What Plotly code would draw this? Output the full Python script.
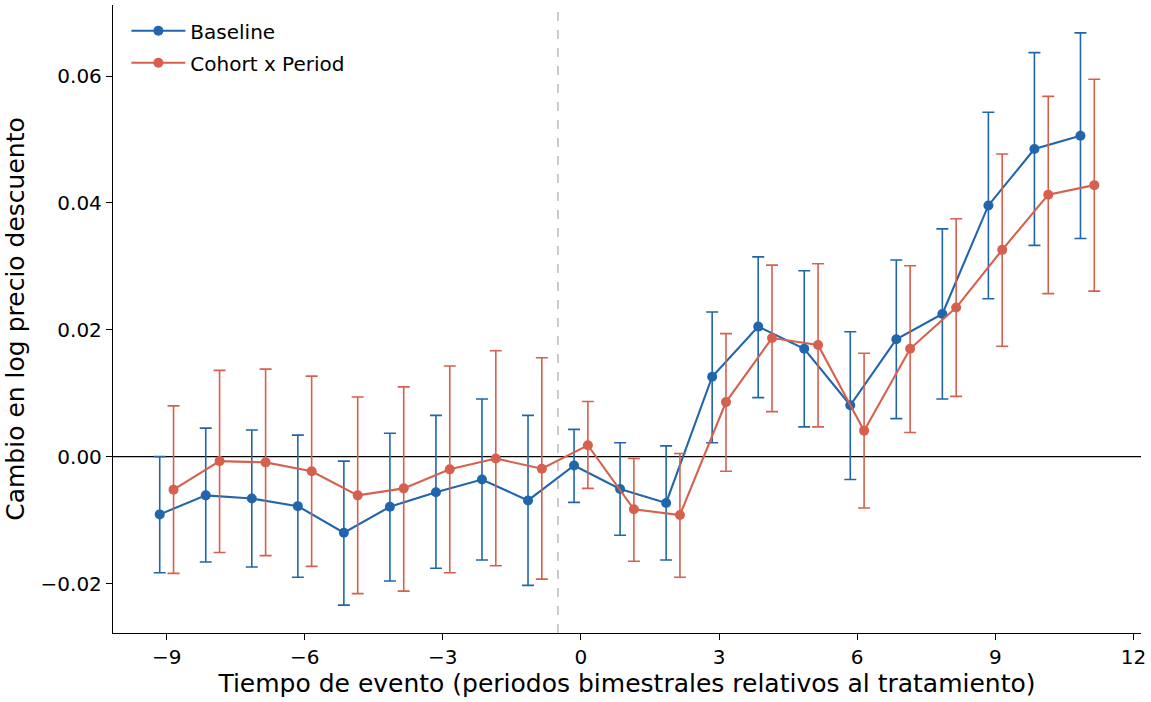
import plotly.graph_objects as go

event_time = list(range(-9, 12))

baseline_coef = [-0.0091, -0.0061, -0.0066, -0.0078, -0.0120, -0.0079, -0.0056, -0.0036, -0.0069, -0.0014,
                 -0.0051, -0.0073, 0.0126, 0.0205, 0.0170, 0.0081, 0.0185, 0.0225, 0.0396, 0.0485, 0.0506]
baseline_hi = [0.0000, 0.0045, 0.0042, 0.0034, -0.0007, 0.0037, 0.0065, 0.0091, 0.0065, 0.0043,
               0.0022, 0.0017, 0.0228, 0.0315, 0.0293, 0.0197, 0.0310, 0.0359, 0.0543, 0.0637, 0.0668]
baseline_lo = [-0.0183, -0.0166, -0.0174, -0.0190, -0.0234, -0.0196, -0.0176, -0.0163, -0.0203, -0.0072,
               -0.0124, -0.0163, 0.0022, 0.0093, 0.0047, -0.0036, 0.0060, 0.0091, 0.0249, 0.0333, 0.0344]

cohort_coef = [-0.0052, -0.0007, -0.0009, -0.0023, -0.0061, -0.0050, -0.0020, -0.0003, -0.0019, 0.0018,
               -0.0083, -0.0092, 0.0086, 0.0187, 0.0176, 0.0041, 0.0170, 0.0235, 0.0326, 0.0413, 0.0428]
cohort_hi = [0.0080, 0.0136, 0.0138, 0.0127, 0.0094, 0.0110, 0.0143, 0.0167, 0.0156, 0.0087,
             -0.0003, 0.0005, 0.0194, 0.0302, 0.0304, 0.0163, 0.0301, 0.0375, 0.0477, 0.0568, 0.0595]
cohort_lo = [-0.0184, -0.0151, -0.0156, -0.0173, -0.0216, -0.0212, -0.0183, -0.0172, -0.0193, -0.0050,
             -0.0165, -0.0190, -0.0023, 0.0071, 0.0047, -0.0081, 0.0038, 0.0095, 0.0174, 0.0257, 0.0261]

x_ticks = [-9, -6, -3, 0, 3, 6, 9, 12]
y_ticks = [-0.02, 0.0, 0.02, 0.04, 0.06]

BLUE = "#2166ac"
RED = "#d6604d"
OFFSET = 0.15

fig = go.Figure()


def add_series(name, coef, hi, lo, color, shift):
    fig.add_trace(go.Scatter(
        x=[t + shift for t in event_time],
        y=coef,
        name=name,
        legendgroup=name,
        mode="lines+markers",
        line=dict(color=color, width=2.1),
        marker=dict(color=color, size=10),
        error_y=dict(
            type="data",
            symmetric=False,
            array=[h - c for h, c in zip(hi, coef)],
            arrayminus=[c - l for c, l in zip(coef, lo)],
            color=color,
            thickness=1.6,
            width=6,
        ),
    ))


add_series("Baseline", baseline_coef, baseline_hi, baseline_lo, BLUE, -OFFSET)
add_series("Cohort x Period", cohort_coef, cohort_hi, cohort_lo, RED, OFFSET)

fig.add_shape(type="line", xref="paper", yref="y", x0=0, x1=1, y0=0, y1=0,
              line=dict(color="black", width=1.3), layer="below")
fig.add_shape(type="line", xref="x", yref="paper", x0=-0.5, x1=-0.5, y0=0, y1=1,
              line=dict(color="#bbbbbb", width=1.5, dash="dash"), layer="below")

fig.update_layout(
    width=1151, height=702,
    margin=dict(l=113, r=6, t=5, b=69),
    plot_bgcolor="white", paper_bgcolor="white",
    font=dict(family="DejaVu Sans", size=21, color="black"),
    showlegend=True,
    legend=dict(x=0.013, y=0.99, xanchor="left", yanchor="top",
                itemwidth=54, tracegroupgap=3, traceorder="grouped",
                bgcolor="rgba(255,255,255,0)", font=dict(size=20)),
)
fig.update_xaxes(
    range=[-10.165, 12.165],
    tickvals=x_ticks,
    tickfont=dict(size=20),
    ticks="outside", ticklen=6, tickwidth=1.2, tickcolor="black",
    showline=True, linecolor="black", linewidth=1.3, mirror=False,
    showgrid=False, zeroline=False,
    title=dict(text="Tiempo de evento (periodos bimestrales relativos al tratamiento)",
               font=dict(size=25), standoff=6),
)
fig.update_yaxes(
    range=[-0.0278, 0.0712],
    tickvals=y_ticks, tickformat=".2f",
    tickfont=dict(size=20),
    ticks="outside", ticklen=6, tickwidth=1.2, tickcolor="black",
    showline=True, linecolor="black", linewidth=1.3, mirror=False,
    showgrid=False, zeroline=False,
    title=dict(text="Cambio en log precio descuento", font=dict(size=25), standoff=8),
)

fig.write_html("out.html")
